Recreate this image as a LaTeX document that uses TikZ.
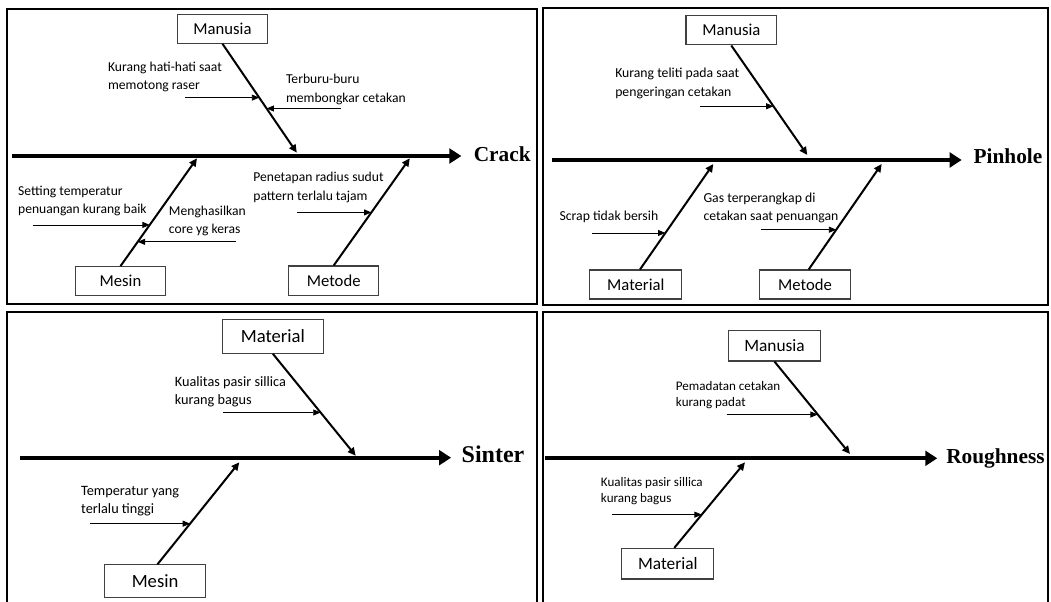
\documentclass[tikz,border=0pt]{standalone}
\usepackage{fontspec}
\setmainfont{Carlito}
\newfontfamily\titlefont{Liberation Serif}
\usetikzlibrary{arrows.meta,calc}
\begin{document}
\begin{tikzpicture}[x=0.75pt,y=-0.75pt,
  panel/.style={line width=1.5pt},
  box/.style={draw=black!75, line width=0.8pt, inner sep=0pt},
  spine/.style={line width=3pt, -{Triangle[length=9pt,width=11pt]}},
  bone/.style={line width=1.5pt, -{Triangle[length=6pt,width=5.5pt]}},
  carrow/.style={line width=0.6pt, -{Triangle[length=5.5pt,width=4.5pt]}},
  cause/.style={anchor=base west, inner sep=0pt, align=left},
  title/.style={anchor=base west, inner sep=0pt, font=\titlefont\bfseries\fontsize{16}{19}\selectfont}]
\useasboundingbox (0,0) rectangle (1051,602);

% ---------------- Top left: Crack ----------------
\draw[panel] (7,9) rectangle (537,304);
\node[box, minimum width=67.7pt, minimum height=21.75pt, font=\fontsize{12.5}{14}\selectfont] (man1) at (222.5,28.8) {Manusia};
\node[box, minimum width=67.1pt, minimum height=22pt, font=\fontsize{12.5}{14}\selectfont] (mes1) at (120.5,281.3) {Mesin};
\node[box, minimum width=67.65pt, minimum height=22pt, font=\fontsize{12.5}{14}\selectfont] (met1) at (333.7,280.7) {Metode};
\coordinate (sp1a) at (12,156);
\coordinate (sp1b) at (461.4,156);
\draw[spine] (sp1a) -- (sp1b);
\node[title] (crack) at (473.5,162) {Crack};
\coordinate (t1) at (296.8,152.7);
\coordinate (t2) at (197,158.3);
\coordinate (t3) at (409.8,158.3);
\draw[bone] (man1.south) -- (t1);
\draw[bone] (mes1.north) -- (t2);
\draw[bone] (met1.north) -- (t3);
\path (man1.south) -- (t1) coordinate[pos=0.494] (e1) coordinate[pos=0.594] (e2);
\path (mes1.north) -- (t2) coordinate[pos=0.382] (e3) coordinate[pos=0.225] (e4);
\path (met1.north) -- (t3) coordinate[pos=0.495] (e5);
\coordinate (f1) at (185,0 |- e1);
\coordinate (f2) at (341,0 |- e2);
\coordinate (f3) at (32.7,0 |- e3);
\coordinate (f4) at (235.9,0 |- e4);
\coordinate (f5) at (296.8,0 |- e5);
\draw[carrow] (f1) -- (e1);
\draw[carrow] (f2) -- (e2);
\draw[carrow] (f3) -- (e3);
\draw[carrow] (f4) -- (e4);
\draw[carrow] (f5) -- (e5);
\begin{scope}[every node/.style={cause, font=\fontsize{10.2}{13.7}\selectfont}]
\node (c1) at (107.8,89.3) {Kurang hati-hati saat\\memotong raser};
\node (c2) at (285.8,102.1) {Terburu-buru\\membongkar cetakan};
\node (c3) at (17.9,213.5) {Setting temperatur\\penuangan kurang baik};
\node (c4) at (168.7,233.5) {Menghasilkan\\core yg keras};
\node (c5) at (253.1,200.1) {Penetapan radius sudut\\pattern terlalu tajam};
\end{scope}

% ---------------- Top right: Pinhole ----------------
\draw[panel] (543,8.5) rectangle (1048,305);
\node[box, minimum width=68pt, minimum height=22pt, font=\fontsize{12.5}{14}\selectfont] (man2) at (731.3,30.3) {Manusia};
\node[box, minimum width=68.8pt, minimum height=21.75pt, font=\fontsize{12.5}{14}\selectfont] (mat2) at (635.8,284.5) {Material};
\node[box, minimum width=68.55pt, minimum height=21.75pt, font=\fontsize{12.5}{14}\selectfont] (met2) at (805,284.5) {Metode};
\coordinate (sp2a) at (551.7,160);
\coordinate (sp2b) at (961.7,160);
\draw[spine] (sp2a) -- (sp2b);
\node[title] (pinhole) at (973.3,163.7) {Pinhole};
\coordinate (t4) at (807.3,155);
\coordinate (t5) at (713.3,164);
\coordinate (t6) at (881.7,164);
\coordinate (bs5) at ($(mat2.north)+(4.2,0)$);
\coordinate (bs6) at ($(met2.north)+(3.7,0)$);
\draw[bone] (man2.south) -- (t4);
\draw[bone] (bs5) -- (t5);
\draw[bone] (bs6) -- (t6);
\path (man2.south) -- (t4) coordinate[pos=0.555] (e6);
\path (bs5) -- (t5) coordinate[pos=0.346] (e7);
\path (bs6) -- (t6) coordinate[pos=0.377] (e8);
\coordinate (f6) at (700,0 |- e6);
\coordinate (f7) at (592.3,0 |- e7);
\coordinate (f8) at (761,0 |- e8);
\draw[carrow] (f6) -- (e6);
\draw[carrow] (f7) -- (e7);
\draw[carrow] (f8) -- (e8);
\begin{scope}[every node/.style={cause, font=\fontsize{10.3}{13.7}\selectfont}]
\node (c6) at (615,96.1) {Kurang teliti pada saat\\pengeringan cetakan};
\node (c7) at (559.3,220.2) {Scrap tidak bersih};
\node (c8) at (703.3,220.5) {Gas terperangkap di\\cetakan saat penuangan};
\end{scope}

% ---------------- Bottom left: Sinter ----------------
\draw[panel] (7,606) -- (7,312) -- (537,312) -- (537,606);
\node[box, minimum width=76.2pt, minimum height=25.5pt, font=\fontsize{14}{16}\selectfont] (mat3) at (272.9,336.3) {Material};
\node[box, minimum width=76.2pt, minimum height=24.5pt, font=\fontsize{14}{16}\selectfont] (mes3) at (155.1,581.3) {Mesin};
\coordinate (sp3a) at (20,457.7);
\coordinate (sp3b) at (451.1,457.7);
\draw[spine] (sp3a) -- (sp3b);
\node[title, font=\titlefont\bfseries\fontsize{18}{21}\selectfont] (sinter) at (461.4,463) {Sinter};
\coordinate (t7) at (355.7,455.7);
\coordinate (t8) at (239.3,462.3);
\coordinate (bs8) at ($(mes3.north)+(2.3,0)$);
\draw[bone] (mat3.south) -- (t7);
\draw[bone] (bs8) -- (t8);
\path (mat3.south) -- (t7) coordinate[pos=0.576] (e9);
\path (bs8) -- (t8) coordinate[pos=0.399] (e10);
\coordinate (f9) at (223.1,0 |- e9);
\coordinate (f10) at (90.2,0 |- e10);
\draw[carrow] (f9) -- (e9);
\draw[carrow] (f10) -- (e10);
\begin{scope}[every node/.style={cause, font=\fontsize{10.7}{13.7}\selectfont}]
\node (c9) at (174.6,404.5) {Kualitas pasir sillica\\kurang bagus};
\node (c10) at (80.9,513.8) {Temperatur yang\\terlalu tinggi};
\end{scope}

% ---------------- Bottom right: Roughness ----------------
\draw[panel] (543,606) -- (543,312.5) -- (1048,312.5) -- (1048,606);
\node[box, minimum width=69.3pt, minimum height=23pt, font=\fontsize{13}{15}\selectfont] (man4) at (774.5,345.7) {Manusia};
\node[box, minimum width=69.2pt, minimum height=23pt, font=\fontsize{13}{15}\selectfont] (mat4) at (667.8,563.7) {Material};
\coordinate (sp4a) at (545,458.3);
\coordinate (sp4b) at (937.3,458.3);
\draw[spine] (sp4a) -- (sp4b);
\node[title] (rough) at (946,464) {Roughness};
\coordinate (t9) at (850,454);
\coordinate (t10) at (745,462.3);
\coordinate (bs10) at ($(mat4.north)+(6.5,0)$);
\draw[bone] (man4.south) -- (t9);
\draw[bone] (bs10) -- (t10);
\path (man4.south) -- (t9) coordinate[pos=0.573] (e11);
\path (bs10) -- (t10) coordinate[pos=0.388] (e12);
\coordinate (f11) at (726.7,0 |- e11);
\coordinate (f12) at (611.7,0 |- e12);
\draw[carrow] (f11) -- (e11);
\draw[carrow] (f12) -- (e12);
\begin{scope}[every node/.style={cause, font=\fontsize{9.8}{12.5}\selectfont}]
\node (c11) at (675.7,406.7) {Pemadatan cetakan\\kurang padat};
\node (c12) at (600.7,502.7) {Kualitas pasir sillica\\kurang bagus};
\end{scope}
\end{tikzpicture}
\end{document}
